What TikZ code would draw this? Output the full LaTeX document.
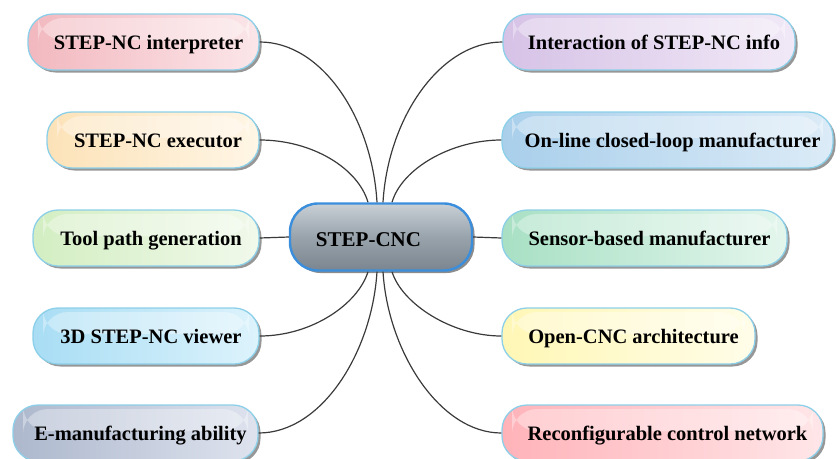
\documentclass[tikz,border=0pt]{standalone}
\usepackage{fontspec}
\setmainfont{Liberation Serif}
\usetikzlibrary{shadows}

\definecolor{rimblue}{HTML}{8CCFE8}
\definecolor{hubrim}{HTML}{3A8EDC}
\definecolor{linkgray}{HTML}{3A3A3A}
\definecolor{hubtop}{HTML}{C9D0D6}
\definecolor{hubmid}{HTML}{98A3AC}
\definecolor{hubbot}{HTML}{7A858F}
% topic colours: saturated end / light end
\definecolor{pinkA}{HTML}{F2B8BF}   \definecolor{pinkB}{HTML}{FBE6E9}
\definecolor{peachA}{HTML}{FCE2B8}  \definecolor{peachB}{HTML}{FFF6E6}
\definecolor{greenA}{HTML}{D3EEC2}  \definecolor{greenB}{HTML}{F1F9EB}
\definecolor{skyA}{HTML}{A8DDF4}    \definecolor{skyB}{HTML}{DDF3FC}
\definecolor{slateA}{HTML}{ADB8CD}  \definecolor{slateB}{HTML}{DEE3EE}
\definecolor{lilacA}{HTML}{D6C2E6}  \definecolor{lilacB}{HTML}{F1E9F7}
\definecolor{blueA}{HTML}{A9CFEB}   \definecolor{blueB}{HTML}{DCEBF7}
\definecolor{mintA}{HTML}{A8E0C4}   \definecolor{mintB}{HTML}{E4F6ED}
\definecolor{lemonA}{HTML}{FFF7B5}  \definecolor{lemonB}{HTML}{FFFDE9}
\definecolor{roseA}{HTML}{FFB3B9}   \definecolor{roseB}{HTML}{FFE6E8}

\tikzset{
  topic/.style 2 args={
    draw=rimblue, line width=1.3pt, rounded corners=25pt,
    minimum height=56pt, inner sep=0pt, text height=17pt, text depth=2pt,
    left color=#1, right color=#2,
    font=\fontsize{20.5}{24}\selectfont\bfseries,
    drop shadow={shadow xshift=2.5pt, shadow yshift=-2.5pt, fill=black!45, opacity=0.9},
    path picture={\fill[white,opacity=0.35]
      ([xshift=10pt,yshift=-4pt]path picture bounding box.north west) rectangle
      ([xshift=-10pt,yshift=2pt]path picture bounding box.east);}
  },
  hub/.style={
    draw=hubrim, line width=2.4pt, rounded corners=28pt,
    minimum width=182pt, minimum height=67pt, inner sep=0pt,
    text height=18pt, text depth=0pt,
    top color=hubtop, bottom color=hubbot, middle color=hubmid,
    font=\fontsize{21}{24}\selectfont\bfseries,
    drop shadow={shadow xshift=2.5pt, shadow yshift=-2.5pt, fill=black!50, opacity=0.9}
  },
  link/.style={draw=linkgray, line width=1.2pt}
}

\begin{document}
\begin{tikzpicture}[x=1pt,y=-1pt]
\useasboundingbox (0,0) rectangle (840,458);
\clip (0,0) rectangle (840,458);

% central topic
\node[hub] (C) at (381,237) {STEP-CNC\hspace*{25pt}};

% left-hand topics
\node[topic={pinkA}{pinkB}, minimum width=231pt] (L1) at (143.5,42) {\hspace*{10pt}STEP-NC interpreter};
\node[topic={peachA}{peachB}, minimum width=212pt] (L2) at (153,140) {\hspace*{10pt}STEP-NC executor};
\node[topic={greenA}{greenB}, minimum width=226pt] (L3) at (146,238) {\hspace*{10pt}Tool path generation};
\node[topic={skyA}{skyB}, minimum width=226pt] (L4) at (146,336) {\hspace*{10pt}3D STEP-NC viewer};
\node[topic={slateA}{slateB}, minimum width=245pt] (L5) at (135.5,433) {\hspace*{10pt}E-manufacturing ability};

% right-hand topics
\node[topic={lilacA}{lilacB}, minimum width=292pt] (R1) at (649,42) {\hspace*{10pt}Interaction of STEP-NC info};
\node[topic={blueA}{blueB}, minimum width=331pt] (R2) at (667.5,140) {\hspace*{10pt}On-line closed-loop manufacturer};
\node[topic={mintA}{mintB}, minimum width=285pt] (R3) at (644.5,238) {\hspace*{10pt}Sensor-based manufacturer};
\node[topic={lemonA}{lemonB}, minimum width=253pt] (R4) at (628.5,336) {\hspace*{10pt}Open-CNC architecture};
\node[topic={roseA}{roseB}, minimum width=321pt] (R5) at (662.5,433) {\hspace*{10pt}Reconfigurable control network};

% attachment points on the hub
\coordinate (ta) at ([xshift=-13pt]C.north);
\coordinate (tb) at ([xshift=-4pt]C.north);
\coordinate (tc) at ([xshift=2pt]C.north);
\coordinate (td) at ([xshift=11pt]C.north);
\coordinate (ba) at ([xshift=-13pt]C.south);
\coordinate (bb) at ([xshift=-4pt]C.south);
\coordinate (bc) at ([xshift=2pt]C.south);
\coordinate (bd) at ([xshift=11pt]C.south);

% connectors
\path[link] (L1.east) .. controls (322,42) and (372,118) .. (tb);
\path[link] (L2.east) .. controls (312,140) and (358,168) .. (ta);
\path[link] (L3.east) -- (C.west);
\path[link] (L4.east) .. controls (312,336) and (358,304) .. (ba);
\path[link] (L5.east) .. controls (322,433) and (372,352) .. (bb);
\path[link] (R1.west) .. controls (440,42) and (388,118) .. (tc);
\path[link] (R2.west) .. controls (452,140) and (402,168) .. (td);
\path[link] (C.east) -- (R3.west);
\path[link] (R4.west) .. controls (452,336) and (402,304) .. (bd);
\path[link] (R5.west) .. controls (440,433) and (388,352) .. (bc);
\end{tikzpicture}
\end{document}
